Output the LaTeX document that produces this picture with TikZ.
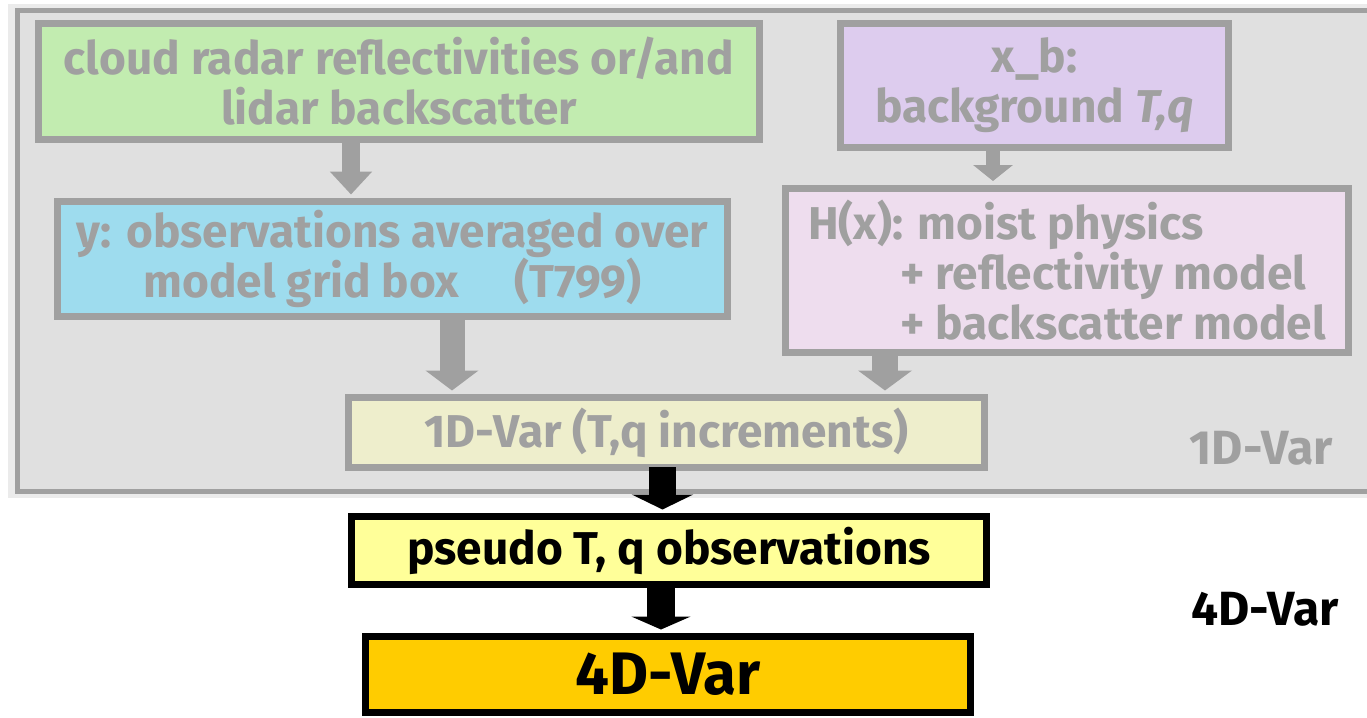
\documentclass[tikz,border=0pt]{standalone}
\usepackage{fontspec}
\setmainfont{Fira Sans}
\usetikzlibrary{arrows.meta}
\definecolor{bggrey}{HTML}{E0E0E0}
\definecolor{stripgrey}{HTML}{EBEBEB}
\definecolor{bordergrey}{HTML}{A0A0A0}
\definecolor{textgrey}{HTML}{A0A0A0}
\definecolor{lgreen}{HTML}{C2ECB0}
\definecolor{lpurple}{HTML}{DDCCEE}
\definecolor{lcyan}{HTML}{9EDCEE}
\definecolor{lpink}{HTML}{EEDDEE}
\definecolor{lcream}{HTML}{EEEECC}
\definecolor{lyellow}{HTML}{FFFF99}
\definecolor{gold}{HTML}{FFCC00}
\begin{document}
\begin{tikzpicture}[x=0.5pt,y=-0.5pt,
  box/.style={line width=3.5pt, inner sep=0pt, align=center, font=\bfseries\fontsize{23}{25}\selectfont},
  gbox/.style={box, draw=bordergrey, text=textgrey},
  kbox/.style={box, draw=black, text=black},
  garrow/.style={draw=bordergrey},
  karrow/.style={draw=black},
  sidelabel/.style={font=\bfseries\fontsize{24}{26}\selectfont, inner sep=0pt}]
\useasboundingbox (0,0) rectangle (1367,718);
\fill[stripgrey] (8,4) rectangle (1367,498);
\draw[bordergrey, fill=bggrey, line width=2.5pt] (17,10.5) rectangle (1385,491.5);

\node[gbox, fill=lgreen, minimum width=360.5pt, minimum height=58pt] (obs) at (399,81.5)
  {cloud radar reflectivities or/and\\lidar backscatter};
\node[gbox, fill=lpurple, minimum width=194pt, minimum height=62pt] (xb) at (1034.5,85.5)
  {x\_b:\\background \textit{T,q}};
\node[gbox, fill=lcyan, minimum width=335pt, minimum height=57.5pt] (yobs) at (392.5,259)
  {y: observations averaged over\\model grid box\hspace{1.2em}(T799)};
\node[gbox, fill=lpink, minimum width=281.5pt, minimum height=82pt, align=left] (hx) at (1067,270)
  {H(x): moist physics\\\hspace*{46pt}+ reflectivity model\\\hspace*{46pt}+ backscatter model};
\node[gbox, fill=lcream, minimum width=318pt, minimum height=35pt] (var1) at (666.5,432.5)
  {1D-Var (T,q increments)};
\node[kbox, fill=lyellow, minimum width=317.5pt, minimum height=34pt] (ps) at (669,550.5)
  {pseudo T, q observations};
\node[kbox, fill=gold, minimum width=302.5pt, minimum height=38pt, font=\bfseries\fontsize{30}{32}\selectfont] (var4) at (668,674.5)
  {4D-Var};
\node[sidelabel, text=textgrey] (lab1) at (1261,448) {1D-Var};
\node[sidelabel, text=black] (lab4) at (1265,609) {4D-Var};

\coordinate (c1) at (351,0);
\coordinate (c2) at (993,0);
\coordinate (c3) at (452,0);
\coordinate (c4) at (885,0);
\coordinate (c5) at (662.5,0);
\coordinate (c6) at (661,0);
\draw[garrow, line width=9pt, -{Triangle[width=20.5pt,length=11.5pt]}]
  (c1 |- obs.south) -- ([yshift=1.75pt]c1 |- yobs.north);
\draw[garrow, line width=7pt, -{Triangle[width=19.5pt,length=8pt]}]
  (c2 |- xb.south) -- ([yshift=1.75pt]c2 |- hx.north);
\draw[garrow, line width=12.5pt, -{Triangle[width=26pt,length=10pt]}]
  (c3 |- yobs.south) -- ([yshift=1.75pt]c3 |- var1.north);
\draw[garrow, line width=13pt, -{Triangle[width=26.5pt,length=10pt]}]
  (c4 |- hx.south) -- ([yshift=1.75pt]c4 |- var1.north);
\draw[karrow, line width=13.5pt, -{Triangle[width=30.5pt,length=7.5pt]}]
  ([yshift=2pt]c5 |- var1.south) -- ([yshift=1.75pt]c5 |- ps.north);
\draw[karrow, line width=14pt, -{Triangle[width=29.5pt,length=6.5pt]}]
  (c6 |- ps.south) -- ([yshift=1.75pt]c6 |- var4.north);
\end{tikzpicture}
\end{document}
